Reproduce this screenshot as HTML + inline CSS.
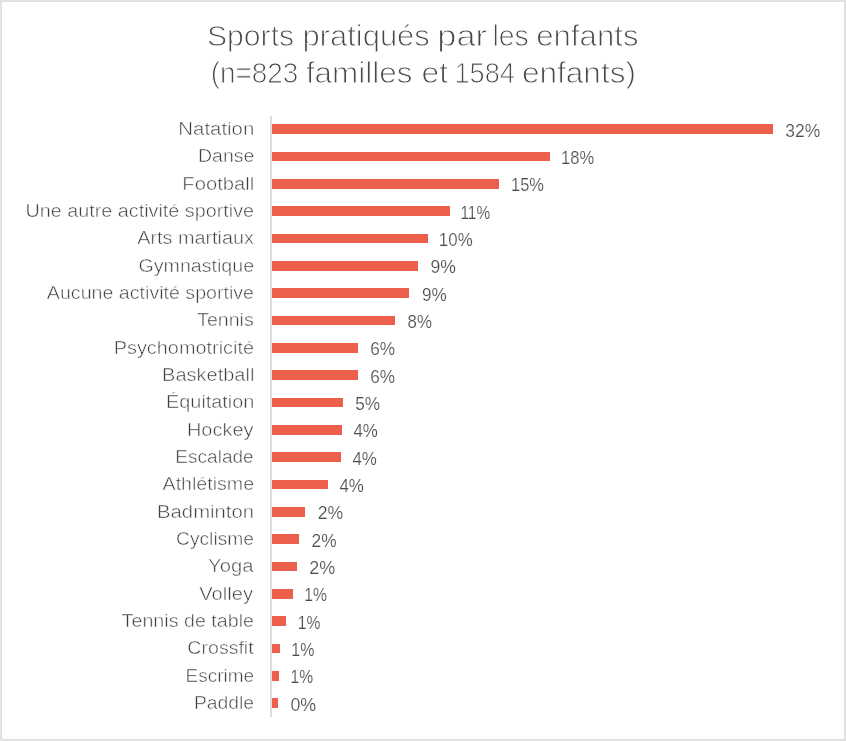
<!DOCTYPE html>
<html><head><meta charset="utf-8"><title>Sports pratiqués par les enfants</title>
<style>html,body{margin:0;padding:0;background:#fff}body{width:846px;height:741px;overflow:hidden}svg{display:block}text{font-family:"Liberation Sans",sans-serif;fill:#3e3e3e;stroke:#fff;stroke-width:0.5px;paint-order:fill stroke}text.v{fill:#4c4c4c;stroke-width:0.2px}text.t{fill:#484848;stroke-width:0.95px}</style></head><body>
<svg width="846" height="741" viewBox="0 0 846 741">
<rect x="0" y="0" width="846" height="741" fill="#fff"/>
<rect x="0.5" y="0.5" width="845" height="740" fill="none" stroke="#e4e4e4" stroke-width="1"/>
<rect x="1.5" y="1.5" width="843" height="738" fill="none" stroke="#e4e4e4" stroke-width="1"/>
<rect x="1.5" y="1.5" width="843" height="738" fill="none" stroke="#d8d8d8" stroke-width="1" stroke-dasharray="1 1" shape-rendering="crispEdges"/>
<rect x="270" y="116" width="2" height="601" fill="#dcdcdc" shape-rendering="crispEdges"/>
<rect x="272" y="124" width="501" height="10" fill="#eb5f4c" shape-rendering="crispEdges"/>
<rect x="272" y="152" width="278" height="9" fill="#eb5f4c" shape-rendering="crispEdges"/>
<rect x="272" y="179" width="227" height="10" fill="#eb5f4c" shape-rendering="crispEdges"/>
<rect x="272" y="206" width="178" height="10" fill="#eb5f4c" shape-rendering="crispEdges"/>
<rect x="272" y="234" width="156" height="9" fill="#eb5f4c" shape-rendering="crispEdges"/>
<rect x="272" y="261" width="146" height="10" fill="#eb5f4c" shape-rendering="crispEdges"/>
<rect x="272" y="288" width="137" height="10" fill="#eb5f4c" shape-rendering="crispEdges"/>
<rect x="272" y="316" width="123" height="9" fill="#eb5f4c" shape-rendering="crispEdges"/>
<rect x="272" y="343" width="86" height="10" fill="#eb5f4c" shape-rendering="crispEdges"/>
<rect x="272" y="370" width="86" height="10" fill="#eb5f4c" shape-rendering="crispEdges"/>
<rect x="272" y="398" width="71" height="9" fill="#eb5f4c" shape-rendering="crispEdges"/>
<rect x="272" y="425" width="70" height="10" fill="#eb5f4c" shape-rendering="crispEdges"/>
<rect x="272" y="452" width="69" height="10" fill="#eb5f4c" shape-rendering="crispEdges"/>
<rect x="272" y="480" width="56" height="9" fill="#eb5f4c" shape-rendering="crispEdges"/>
<rect x="272" y="507" width="33" height="10" fill="#eb5f4c" shape-rendering="crispEdges"/>
<rect x="272" y="534" width="27" height="10" fill="#eb5f4c" shape-rendering="crispEdges"/>
<rect x="272" y="562" width="25" height="9" fill="#eb5f4c" shape-rendering="crispEdges"/>
<rect x="272" y="589" width="21" height="10" fill="#eb5f4c" shape-rendering="crispEdges"/>
<rect x="272" y="616" width="14" height="10" fill="#eb5f4c" shape-rendering="crispEdges"/>
<rect x="272" y="644" width="8" height="9" fill="#eb5f4c" shape-rendering="crispEdges"/>
<rect x="272" y="671" width="7" height="10" fill="#eb5f4c" shape-rendering="crispEdges"/>
<rect x="272" y="698" width="6" height="10" fill="#eb5f4c" shape-rendering="crispEdges"/>
<g style="filter:grayscale(1)">
<text class="t" x="207.00" y="46.30" font-size="29.5" textLength="87.10" lengthAdjust="spacingAndGlyphs">Sports</text>
<text class="t" x="302.40" y="46.30" font-size="29.5" textLength="127.45" lengthAdjust="spacingAndGlyphs">pratiqués</text>
<text class="t" x="437.35" y="46.30" font-size="29.5" textLength="49.55" lengthAdjust="spacingAndGlyphs">par</text>
<text class="t" x="492.45" y="46.30" font-size="29.5" textLength="36.30" lengthAdjust="spacingAndGlyphs">les</text>
<text class="t" x="536.20" y="46.30" font-size="29.5" textLength="102.30" lengthAdjust="spacingAndGlyphs">enfants</text>
<text class="t" x="210.70" y="83.10" font-size="29.5" textLength="87.55" lengthAdjust="spacingAndGlyphs">(n=823</text>
<text class="t" x="305.90" y="83.10" font-size="29.5" textLength="106.50" lengthAdjust="spacingAndGlyphs">familles</text>
<text class="t" x="421.50" y="83.10" font-size="29.5" textLength="26.50" lengthAdjust="spacingAndGlyphs">et</text>
<text class="t" x="454.50" y="83.10" font-size="29.5" textLength="60.40" lengthAdjust="spacingAndGlyphs">1584</text>
<text class="t" x="521.90" y="83.10" font-size="29.5" textLength="114.05" lengthAdjust="spacingAndGlyphs">enfants)</text>
<text class="l" x="178.34" y="135.10" font-size="18" textLength="75.97" lengthAdjust="spacingAndGlyphs">Natation</text><text class="v" x="785.31" y="136.80" font-size="19" textLength="34.99" lengthAdjust="spacingAndGlyphs">32%</text>
<text class="l" x="198.04" y="162.43" font-size="18" textLength="56.28" lengthAdjust="spacingAndGlyphs">Danse</text><text class="v" x="561.05" y="164.13" font-size="19" textLength="33.05" lengthAdjust="spacingAndGlyphs">18%</text>
<text class="l" x="182.35" y="189.77" font-size="18" textLength="72.02" lengthAdjust="spacingAndGlyphs">Football</text><text class="v" x="511.08" y="191.47" font-size="19" textLength="32.87" lengthAdjust="spacingAndGlyphs">15%</text>
<text class="l" x="25.48" y="217.10" font-size="18" textLength="228.59" lengthAdjust="spacingAndGlyphs">Une autre activité sportive</text><text class="v" x="460.41" y="218.80" font-size="19" textLength="29.76" lengthAdjust="spacingAndGlyphs">11%</text>
<text class="l" x="137.20" y="244.43" font-size="18" textLength="116.76" lengthAdjust="spacingAndGlyphs">Arts martiaux</text><text class="v" x="438.87" y="246.13" font-size="19" textLength="33.80" lengthAdjust="spacingAndGlyphs">10%</text>
<text class="l" x="138.45" y="271.77" font-size="18" textLength="115.69" lengthAdjust="spacingAndGlyphs">Gymnastique</text><text class="v" x="430.55" y="273.47" font-size="19" textLength="25.42" lengthAdjust="spacingAndGlyphs">9%</text>
<text class="l" x="46.88" y="299.10" font-size="18" textLength="207.17" lengthAdjust="spacingAndGlyphs">Aucune activité sportive</text><text class="v" x="421.90" y="300.80" font-size="19" textLength="24.77" lengthAdjust="spacingAndGlyphs">9%</text>
<text class="l" x="197.11" y="326.43" font-size="18" textLength="56.67" lengthAdjust="spacingAndGlyphs">Tennis</text><text class="v" x="407.54" y="328.13" font-size="19" textLength="24.41" lengthAdjust="spacingAndGlyphs">8%</text>
<text class="l" x="113.72" y="353.77" font-size="18" textLength="140.34" lengthAdjust="spacingAndGlyphs">Psychomotricité</text><text class="v" x="370.30" y="355.47" font-size="19" textLength="24.85" lengthAdjust="spacingAndGlyphs">6%</text>
<text class="l" x="162.06" y="381.10" font-size="18" textLength="92.32" lengthAdjust="spacingAndGlyphs">Basketball</text><text class="v" x="370.30" y="382.80" font-size="19" textLength="24.85" lengthAdjust="spacingAndGlyphs">6%</text>
<text class="l" x="166.08" y="408.43" font-size="18" textLength="88.28" lengthAdjust="spacingAndGlyphs">Équitation</text><text class="v" x="355.24" y="410.13" font-size="19" textLength="24.91" lengthAdjust="spacingAndGlyphs">5%</text>
<text class="l" x="186.95" y="435.77" font-size="18" textLength="66.58" lengthAdjust="spacingAndGlyphs">Hockey</text><text class="v" x="353.44" y="437.47" font-size="19" textLength="24.47" lengthAdjust="spacingAndGlyphs">4%</text>
<text class="l" x="175.33" y="463.10" font-size="18" textLength="78.33" lengthAdjust="spacingAndGlyphs">Escalade</text><text class="v" x="352.44" y="464.80" font-size="19" textLength="24.47" lengthAdjust="spacingAndGlyphs">4%</text>
<text class="l" x="162.57" y="490.43" font-size="18" textLength="91.54" lengthAdjust="spacingAndGlyphs">Athlétisme</text><text class="v" x="339.44" y="492.13" font-size="19" textLength="24.47" lengthAdjust="spacingAndGlyphs">4%</text>
<text class="l" x="157.05" y="517.77" font-size="18" textLength="97.01" lengthAdjust="spacingAndGlyphs">Badminton</text><text class="v" x="317.73" y="519.47" font-size="19" textLength="25.45" lengthAdjust="spacingAndGlyphs">2%</text>
<text class="l" x="176.08" y="545.10" font-size="18" textLength="77.82" lengthAdjust="spacingAndGlyphs">Cyclisme</text><text class="v" x="311.55" y="546.80" font-size="19" textLength="25.04" lengthAdjust="spacingAndGlyphs">2%</text>
<text class="l" x="208.09" y="572.43" font-size="18" textLength="45.32" lengthAdjust="spacingAndGlyphs">Yoga</text><text class="v" x="309.34" y="574.13" font-size="19" textLength="25.92" lengthAdjust="spacingAndGlyphs">2%</text>
<text class="l" x="199.25" y="599.77" font-size="18" textLength="53.82" lengthAdjust="spacingAndGlyphs">Volley</text><text class="v" x="304.31" y="601.47" font-size="19" textLength="22.65" lengthAdjust="spacingAndGlyphs">1%</text>
<text class="l" x="121.61" y="627.10" font-size="18" textLength="132.44" lengthAdjust="spacingAndGlyphs">Tennis de table</text><text class="v" x="297.69" y="628.80" font-size="19" textLength="22.60" lengthAdjust="spacingAndGlyphs">1%</text>
<text class="l" x="187.39" y="654.43" font-size="18" textLength="66.27" lengthAdjust="spacingAndGlyphs">Crossfit</text><text class="v" x="291.31" y="656.13" font-size="19" textLength="23.06" lengthAdjust="spacingAndGlyphs">1%</text>
<text class="l" x="185.55" y="681.77" font-size="18" textLength="68.50" lengthAdjust="spacingAndGlyphs">Escrime</text><text class="v" x="290.54" y="683.47" font-size="19" textLength="22.55" lengthAdjust="spacingAndGlyphs">1%</text>
<text class="l" x="193.93" y="709.10" font-size="18" textLength="60.08" lengthAdjust="spacingAndGlyphs">Paddle</text><text class="v" x="290.39" y="710.80" font-size="19" textLength="25.67" lengthAdjust="spacingAndGlyphs">0%</text>
</g>
</svg></body></html>
